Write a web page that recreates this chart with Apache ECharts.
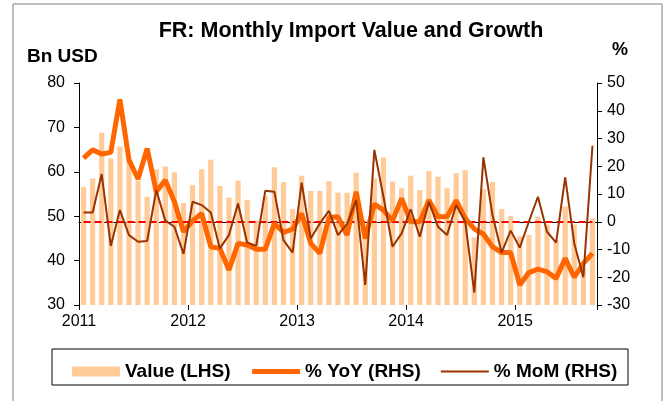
<!DOCTYPE html>
<html>
<head>
<meta charset="utf-8">
<script src="https://cdn.jsdelivr.net/npm/echarts@6/dist/echarts.min.js"></script>
<style>
  html, body { margin: 0; padding: 0; background: #fff; }
  #chart { width: 669px; height: 401px; }
</style>
</head>
<body>
<div id="chart"></div>
<script>
var years = ['2011', '2012', '2013', '2014', '2015'];
var monthNames = ['Jan', 'Feb', 'Mar', 'Apr', 'May', 'Jun', 'Jul', 'Aug', 'Sep', 'Oct', 'Nov', 'Dec'];

// Jan 2011 .. Sep 2015
var months = [];
years.forEach(function (y) {
    monthNames.forEach(function (m) {
        if (months.length < 57) months.push(m + '-' + y.slice(2));
    });
});

// Bn USD
var importValue = [
    56.6, 58.5, 68.8, 63.0, 65.7, 62.5, 58.0, 54.4, 60.6, 61.2, 59.9, 53.0,
    57.0, 60.6, 62.7, 56.8, 54.2, 58.0, 53.7, 49.0, 54.5, 61.0, 57.7, 51.6,
    59.1, 55.7, 55.7, 57.9, 55.3, 55.3, 59.8, 46.2, 58.5, 63.2, 57.8, 56.3,
    59.1, 55.9, 60.2, 58.9, 56.3, 59.7, 60.4, 45.2, 56.1, 57.7, 51.6, 50.0,
    45.5, 45.8, 49.9, 48.1, 44.6, 52.2, 48.1, 38.4, 49.5
];
// % YoY
var yoy = [
    22.9, 25.9, 24.4, 25.0, 44.1, 22.3, 15.4, 26.4, 10.8, 15.0, 7.2, -3.6,
    0.3, 3.0, -9.0, -9.6, -17.4, -7.8, -8.4, -9.9, -9.9, -0.6, -3.8, -2.7,
    3.0, -7.8, -11.4, 1.5, 1.8, -4.8, 10.8, -6.0, 6.4, 4.2, 0.4, 8.4,
    0.0, 0.0, 7.8, 1.8, 1.8, 7.7, 1.2, -2.6, -4.4, -9.0, -11.1, -11.1,
    -22.8, -18.3, -17.1, -18.0, -20.4, -13.2, -20.0, -15.0, -11.4
];
// % MoM
var mom = [
    3.3, 3.3, 17.2, -8.7, 4.2, -4.8, -7.2, -6.9, 11.4, 0.4, -1.8, -11.6,
    7.2, 6.0, 3.3, -9.6, -4.8, 6.6, -7.5, -8.7, 11.2, 10.8, -6.6, -11.1,
    14.1, -6.0, -0.6, 3.9, -4.8, -0.8, 7.8, -22.8, 25.9, 9.0, -9.0, -4.2,
    4.5, -5.4, 7.2, -1.8, -4.8, 6.0, 0.0, -25.5, 23.2, 2.4, -11.1, -3.2,
    -9.3, 0.0, 9.0, -3.6, -7.5, 16.0, -7.8, -20.0, 27.4
];

var FONT = '"Liberation Sans", Arial, sans-serif';

var myChart = echarts.init(document.getElementById('chart'));
var option = {
    animation: false,
    textStyle: { fontFamily: FONT },
    grid: { left: 79, right: 72, top: 83, bottom: 96 },
    graphic: [
        { type: 'rect', shape: { x: 13, y: 4, width: 649, height: 430 },
          style: { fill: 'none', stroke: '#7f7f7f', lineWidth: 1 }, silent: true },
        { type: 'text', x: 351, y: 31,
          style: { text: 'FR: Monthly Import Value and Growth', fill: '#000', font: 'bold 21.5px ' + FONT,
                   textAlign: 'center', textVerticalAlign: 'middle' } },
        { type: 'text', x: 27, y: 57,
          style: { text: 'Bn USD', fill: '#000', font: 'bold 19px ' + FONT, textVerticalAlign: 'middle' } },
        { type: 'text', x: 620, y: 50,
          style: { text: '%', fill: '#000', font: 'bold 18px ' + FONT, textAlign: 'center', textVerticalAlign: 'middle' } },
        { type: 'rect', shape: { x: 52, y: 349, width: 576, height: 36 },
          style: { fill: '#fff', stroke: '#000', lineWidth: 1 }, z: -1, silent: true }
    ],
    legend: {
        left: 67, top: 357,
        itemWidth: 48, itemHeight: 10, itemGap: 19,
        textStyle: { fontSize: 19, fontWeight: 'bold', color: '#000', fontFamily: FONT },
        data: [
            { name: 'Value (LHS)', icon: 'rect' },
            { name: '% YoY (RHS)', itemStyle: { opacity: 0 }, lineStyle: { width: 5 } },
            { name: '% MoM (RHS)', itemStyle: { opacity: 0 }, lineStyle: { width: 2 } }
        ]
    },
    xAxis: [{
        type: 'category',
        data: months,
        boundaryGap: true,
        axisLine: { lineStyle: { color: '#000', width: 1 } },
        axisTick: { show: false },
        axisLabel: { show: false },
        splitLine: { show: false }
    }, {
        type: 'value',
        position: 'bottom',
        min: 0, max: months.length, interval: 12,
        axisLine: { show: false },
        axisTick: { show: true, length: 5, lineStyle: { color: '#000' } },
        splitLine: { show: false },
        axisLabel: {
            color: '#000', fontSize: 16, margin: 9,
            formatter: function (v) { return v % 12 === 0 ? years[v / 12] || '' : ''; }
        }
    }],
    yAxis: [{
        type: 'value',
        min: 30, max: 80, interval: 10,
        axisLine: { show: true, lineStyle: { color: '#000' } },
        axisTick: { show: true, length: 5, lineStyle: { color: '#000' } },
        splitLine: { show: false },
        axisLabel: { color: '#000', fontSize: 16, margin: 14 }
    }, {
        type: 'value',
        min: -30, max: 50, interval: 10,
        axisLine: { show: true, lineStyle: { color: '#000' } },
        axisTick: { show: true, length: 5, lineStyle: { color: '#000' } },
        splitLine: { show: false },
        axisLabel: { color: '#000', fontSize: 16, margin: 10 }
    }],
    series: [{
        name: 'Value (LHS)',
        type: 'bar',
        data: importValue,
        xAxisIndex: 0, yAxisIndex: 0,
        barCategoryGap: '42%',
        itemStyle: { color: '#ffcc99' },
        z: 1
    }, {
        name: '% YoY (RHS)',
        type: 'line',
        data: yoy,
        xAxisIndex: 0, yAxisIndex: 1,
        symbol: 'none',
        lineStyle: { color: '#ff6600', width: 5 },
        itemStyle: { color: '#ff6600' },
        z: 3,
        markLine: {
            silent: true, symbol: 'none', label: { show: false },
            lineStyle: { color: '#ff0000', type: [7, 4], width: 2 },
            data: [[{ coord: [months[0], 0] }, { coord: [months[months.length - 1], 0] }]],
            z: 2
        }
    }, {
        name: '% MoM (RHS)',
        type: 'line',
        data: mom,
        xAxisIndex: 0, yAxisIndex: 1,
        symbol: 'none',
        lineStyle: { color: '#993300', width: 2 },
        itemStyle: { color: '#993300' },
        z: 4
    }]
};
myChart.setOption(option);

window.addEventListener('resize', function () {
    myChart.resize();
});
</script>
</body>
</html>
